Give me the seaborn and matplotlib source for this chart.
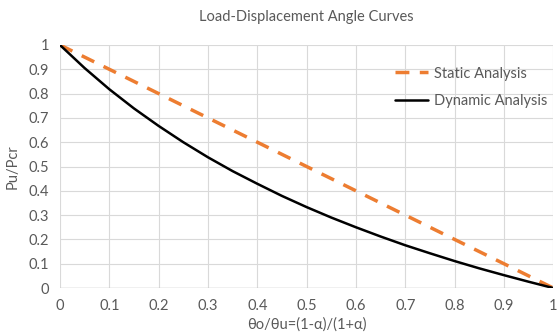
import matplotlib
matplotlib.use('Agg')
import matplotlib.pyplot as plt
import pandas as pd
import seaborn as sns


# Data
theta_ratio = [0, 0.05, 0.1, 0.15, 0.2, 0.25, 0.3, 0.35, 0.4, 0.45, 0.5,
               0.55, 0.6, 0.65, 0.7, 0.75, 0.8, 0.85, 0.9, 0.95, 1.0]
static_load = [1.0, 0.95, 0.9, 0.85, 0.8, 0.75, 0.7, 0.65, 0.6, 0.55, 0.5,
               0.45, 0.4, 0.35, 0.3, 0.25, 0.2, 0.15, 0.1, 0.05, 0.0]
dynamic_load = [1.0, 0.905, 0.818, 0.739, 0.667, 0.600, 0.538, 0.481, 0.429, 0.379, 0.333,
                0.290, 0.250, 0.212, 0.176, 0.143, 0.111, 0.081, 0.053, 0.026, 0.0]
x_ticks = [0, 0.1, 0.2, 0.3, 0.4, 0.5, 0.6, 0.7, 0.8, 0.9, 1]
y_ticks = [0, 0.1, 0.2, 0.3, 0.4, 0.5, 0.6, 0.7, 0.8, 0.9, 1]
tick_labels = ['0', '0.1', '0.2', '0.3', '0.4', '0.5', '0.6', '0.7', '0.8', '0.9', '1']

df = pd.DataFrame({'x': theta_ratio, 'Static Analysis': static_load,
                   'Dynamic Analysis': dynamic_load})

sns.set_style('white')
plt.rcParams['font.family'] = ['Lato', 'DejaVu Sans']
grey = '#595959'

fig = plt.figure(figsize=(5.6, 3.33), dpi=100)
ax = fig.add_axes([0.107, 0.135, 0.881, 0.73])

sns.lineplot(data=df, x='x', y='Static Analysis', ax=ax, color='#ED7D31',
             linewidth=2.5, dashes=False, label='Static Analysis')
ax.lines[-1].set_dashes([4, 3])
sns.lineplot(data=df, x='x', y='Dynamic Analysis', ax=ax, color='black',
             linewidth=1.8, label='Dynamic Analysis')

ax.set_xlim(0, 1)
ax.set_ylim(0, 1)
ax.set_xticks(x_ticks)
ax.set_xticklabels(tick_labels)
ax.set_yticks(y_ticks)
ax.set_yticklabels(tick_labels)
ax.grid(True, color='#d9d9d9', linewidth=0.8)
ax.set_axisbelow(True)
for s in ax.spines.values():
    s.set_visible(False)
ax.axhline(0, color='#bfbfbf', linewidth=1, zorder=1)
ax.tick_params(colors=grey, labelsize=10.5, length=0, pad=8)

ax.set_title('Load-Displacement Angle Curves', color=grey, fontsize=10.5, pad=17)
ax.set_xlabel('θo/θu=(1-α)/(1+α)', color=grey, fontsize=10.5, labelpad=3)
ax.set_ylabel('Pu/Pcr', color=grey, fontsize=10.5, labelpad=6)

leg = ax.legend(loc='upper right', bbox_to_anchor=(1.015, 0.965), frameon=False,
                fontsize=10.5, handlelength=2.3, labelspacing=0.95, handletextpad=0.4)
for t in leg.get_texts():
    t.set_color(grey)

fig.savefig('out.png', dpi=100)
